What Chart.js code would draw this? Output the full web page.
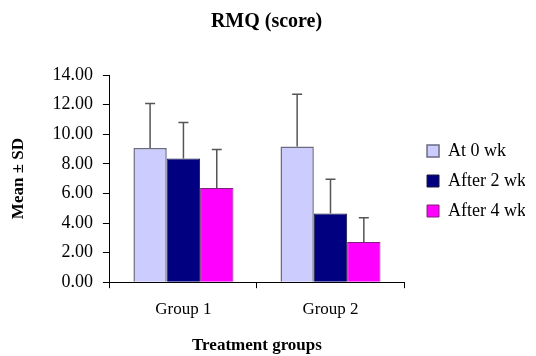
<!DOCTYPE html>
<html>
<head>
<meta charset="utf-8">
<script src="https://cdn.jsdelivr.net/npm/chart.js@4"></script>
<style>
  body { margin: 0; background: #fff; }
  #wrap { width: 536px; height: 356px; }
</style>
</head>
<body>
<div id="wrap"><canvas id="rmq"></canvas></div>
<script>
const groups = ['Group 1', 'Group 2'];
const week0 = [9.06, 9.17];
const week2 = [8.36, 4.64];
const week4 = [6.37, 2.71];
const sd0 = [3.01, 3.53];
const sd2 = [2.43, 2.31];
const sd4 = [2.60, 1.64];

// upper error bars with a cap
const errorBars = {
  id: 'errorBars',
  afterDatasetsDraw(chart) {
    const ctx = chart.ctx;
    const y = chart.scales.y;
    ctx.save();
    ctx.strokeStyle = '#555';
    ctx.lineWidth = 1.5;
    chart.data.datasets.forEach((ds, i) => {
      const meta = chart.getDatasetMeta(i);
      meta.data.forEach((bar, j) => {
        const top = y.getPixelForValue(ds.data[j] + ds.sd[j]);
        ctx.beginPath();
        ctx.moveTo(bar.x, bar.y);
        ctx.lineTo(bar.x, top);
        ctx.moveTo(bar.x - 5, top);
        ctx.lineTo(bar.x + 5, top);
        ctx.stroke();
      });
    });
    ctx.restore();
  }
};

// leave a wider gap between the plot and the legend
const legendGap = {
  id: 'legendGap',
  beforeDraw(chart) {
    chart.legend.left = chart.chartArea.right + 11;
  }
};

const serif = 'Liberation Serif';

new Chart(document.getElementById('rmq').getContext('2d'), {
  type: 'bar',
  data: {
    labels: groups,
    datasets: [
      { label: 'At 0 wk', data: week0, sd: sd0, backgroundColor: '#ccccff', borderColor: '#6b6b80', borderWidth: 1.5 },
      { label: 'After 2 wk', data: week2, sd: sd2, backgroundColor: '#000080', borderColor: '#1a1a40', borderWidth: 1 },
      { label: 'After 4 wk', data: week4, sd: sd4, backgroundColor: '#ff00ff', borderColor: '#80207a', borderWidth: 1 }
    ]
  },
  options: {
    responsive: true,
    maintainAspectRatio: false,
    animation: false,
    categoryPercentage: 0.68,
    barPercentage: 1.0,
    layout: { padding: { left: 8, right: 11, top: 6, bottom: 0 } },
    plugins: {
      title: {
        display: true,
        text: 'RMQ (score)',
        color: '#000',
        font: { family: serif, size: 20, weight: 'bold' },
        padding: { top: 4, bottom: 41 }
      },
      legend: {
        position: 'right',
        labels: {
          color: '#000',
          font: { family: serif, size: 18 },
          boxWidth: 12,
          boxHeight: 12,
          padding: 12,
          useBorderRadius: false
        }
      },
      tooltip: { enabled: false }
    },
    scales: {
      x: {
        grid: { display: true, drawOnChartArea: false, offset: true, color: '#000', tickLength: 6 },
        border: { color: '#000', width: 1 },
        ticks: { color: '#000', font: { family: serif, size: 17 }, padding: 11 },
        title: { display: true, text: 'Treatment groups', color: '#000', font: { family: serif, size: 17, weight: 'bold' }, padding: { top: 5, bottom: 0 } }
      },
      y: {
        min: 0,
        max: 14,
        grid: { display: true, drawOnChartArea: false, color: '#000', tickLength: 7 },
        border: { color: '#000', width: 1 },
        ticks: {
          stepSize: 2,
          color: '#000',
          font: { family: serif, size: 18 },
          padding: 10,
          callback: v => v.toFixed(2)
        },
        title: { display: true, text: 'Mean \u00b1 SD', color: '#000', font: { family: serif, size: 17, weight: 'bold' }, padding: { top: 0, bottom: 14 } }
      }
    }
  },
  plugins: [errorBars, legendGap]
});
</script>
</body>
</html>
